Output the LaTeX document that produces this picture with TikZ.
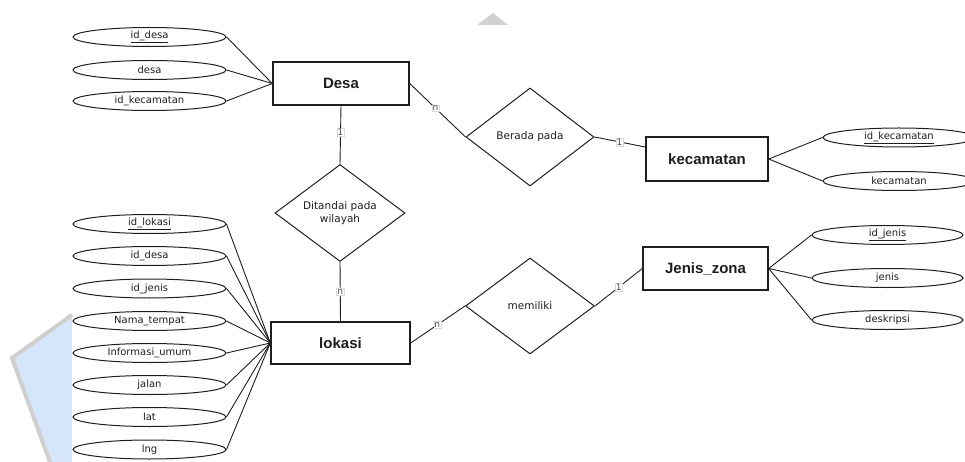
\documentclass[tikz,border=0pt]{standalone}
\usepackage{fontspec}
\setmainfont{DejaVu Sans}
\newfontfamily\entfont{Liberation Sans}
\usetikzlibrary{shapes.geometric}
\definecolor{wmblue}{HTML}{D6E6FA}
\definecolor{wmgray}{HTML}{CFCFCF}
\definecolor{ink}{HTML}{1E1E1E}
\tikzset{
  attr/.style={ellipse, draw=ink, line width=1pt, minimum width=153pt, minimum height=19pt, inner sep=0pt, font=\fontsize{10}{11}\selectfont, text=ink},
  entity/.style={rectangle, draw=ink, line width=1.4pt, inner sep=0pt, font=\entfont\bfseries\fontsize{15}{17}\selectfont, text=ink},
  rel/.style={diamond, draw=ink, line width=1pt, inner sep=0pt, font=\fontsize{10.5}{13}\selectfont, text=ink, align=center},
  conn/.style={draw=ink, line width=0.9pt},
  card/.style={fill=white, draw=black!15, line width=0.3pt, inner sep=0.8pt, font=\fontsize{9}{10}\selectfont, text=black!70}
}
\begin{document}
\begin{tikzpicture}[x=1pt, y=-1pt]
\useasboundingbox (0,0) rectangle (965,462);
\clip (0,0) rectangle (965,462);
% faint watermark remnants
\fill[wmblue] (72,315) -- (12,358) -- (50,462) -- (72,462) -- cycle;
\draw[wmgray, line width=4pt] (72,315) -- (12,358) -- (50,462);
\fill[black!18] (493,13) -- (508,25) -- (477,25) -- cycle;

% entities
\node[entity, minimum width=136pt, minimum height=43pt] (desa) at (341,83.5) {Desa};
\node[entity, minimum width=122pt, minimum height=44pt] (kec) at (707,159) {kecamatan};
\node[entity, minimum width=125pt, minimum height=43pt] (jz) at (705.5,268.5) {Jenis\_zona};
\node[entity, minimum width=139pt, minimum height=42pt] (lok) at (340.5,343) {lokasi};

% relationships
\node[rel, minimum width=128pt, minimum height=98pt] (berada) at (530,137) {Berada pada};
\node[rel, minimum width=130pt, minimum height=96pt] (dit) at (340,213) {Ditandai pada\\wilayah};
\node[rel, minimum width=129pt, minimum height=96pt] (mem) at (530,306) {memiliki};

% Desa attributes
\node[attr] (a1) at (149.5,37) {\underline{id\_desa}};
\node[attr] (a2) at (149.5,70) {desa};
\node[attr] (a3) at (149.5,101) {id\_kecamatan};
\foreach \a in {a1,a2,a3} \draw[conn] (\a.east) -- (desa.west);

% lokasi attributes
\node[attr] (b1) at (149.5,224) {\underline{id\_lokasi}};
\node[attr] (b2) at (149.5,256) {id\_desa};
\node[attr] (b3) at (149.5,288.5) {id\_jenis};
\node[attr] (b4) at (149.5,321) {Nama\_tempat};
\node[attr] (b5) at (149.5,353) {Informasi\_umum};
\node[attr] (b6) at (149.5,385) {jalan};
\node[attr] (b7) at (149.5,417) {lat};
\node[attr] (b8) at (149.5,449.5) {lng};
\foreach \b in {b1,b2,b3,b4,b5,b6,b7,b8} \draw[conn] (\b.east) -- (lok.west);

% kecamatan attributes
\node[attr, minimum width=152pt] (c1) at (899,137.5) {\underline{id\_kecamatan}};
\node[attr, minimum width=152pt] (c2) at (899,181) {kecamatan};
\foreach \c in {c1,c2} \draw[conn] (kec.east) -- (\c.west);

% Jenis_zona attributes
\node[attr, minimum width=151pt] (d1) at (887.5,235) {\underline{id\_jenis}};
\node[attr, minimum width=151pt] (d2) at (887.5,278) {jenis};
\node[attr, minimum width=151pt] (d3) at (887.5,320) {deskripsi};
\foreach \d in {d1,d2,d3} \draw[conn] (jz.east) -- (\d.west);

% relationship connectors with cardinalities
\draw[conn] (desa.east) -- node[card, pos=0.46] {n} (berada.west);
\draw[conn] (berada.east) -- node[card, pos=0.49] {1} ([yshift=12pt]kec.west);
\draw[conn] (desa.south) -- node[card, pos=0.46] {1} (dit.north);
\draw[conn] (dit.south) -- node[card, pos=0.5] {n} (lok.north);
\draw[conn] (lok.east) -- node[card, pos=0.49] {n} (mem.west);
\draw[conn] (mem.east) -- node[card, pos=0.5] {1} (jz.west);
\end{tikzpicture}
\end{document}
